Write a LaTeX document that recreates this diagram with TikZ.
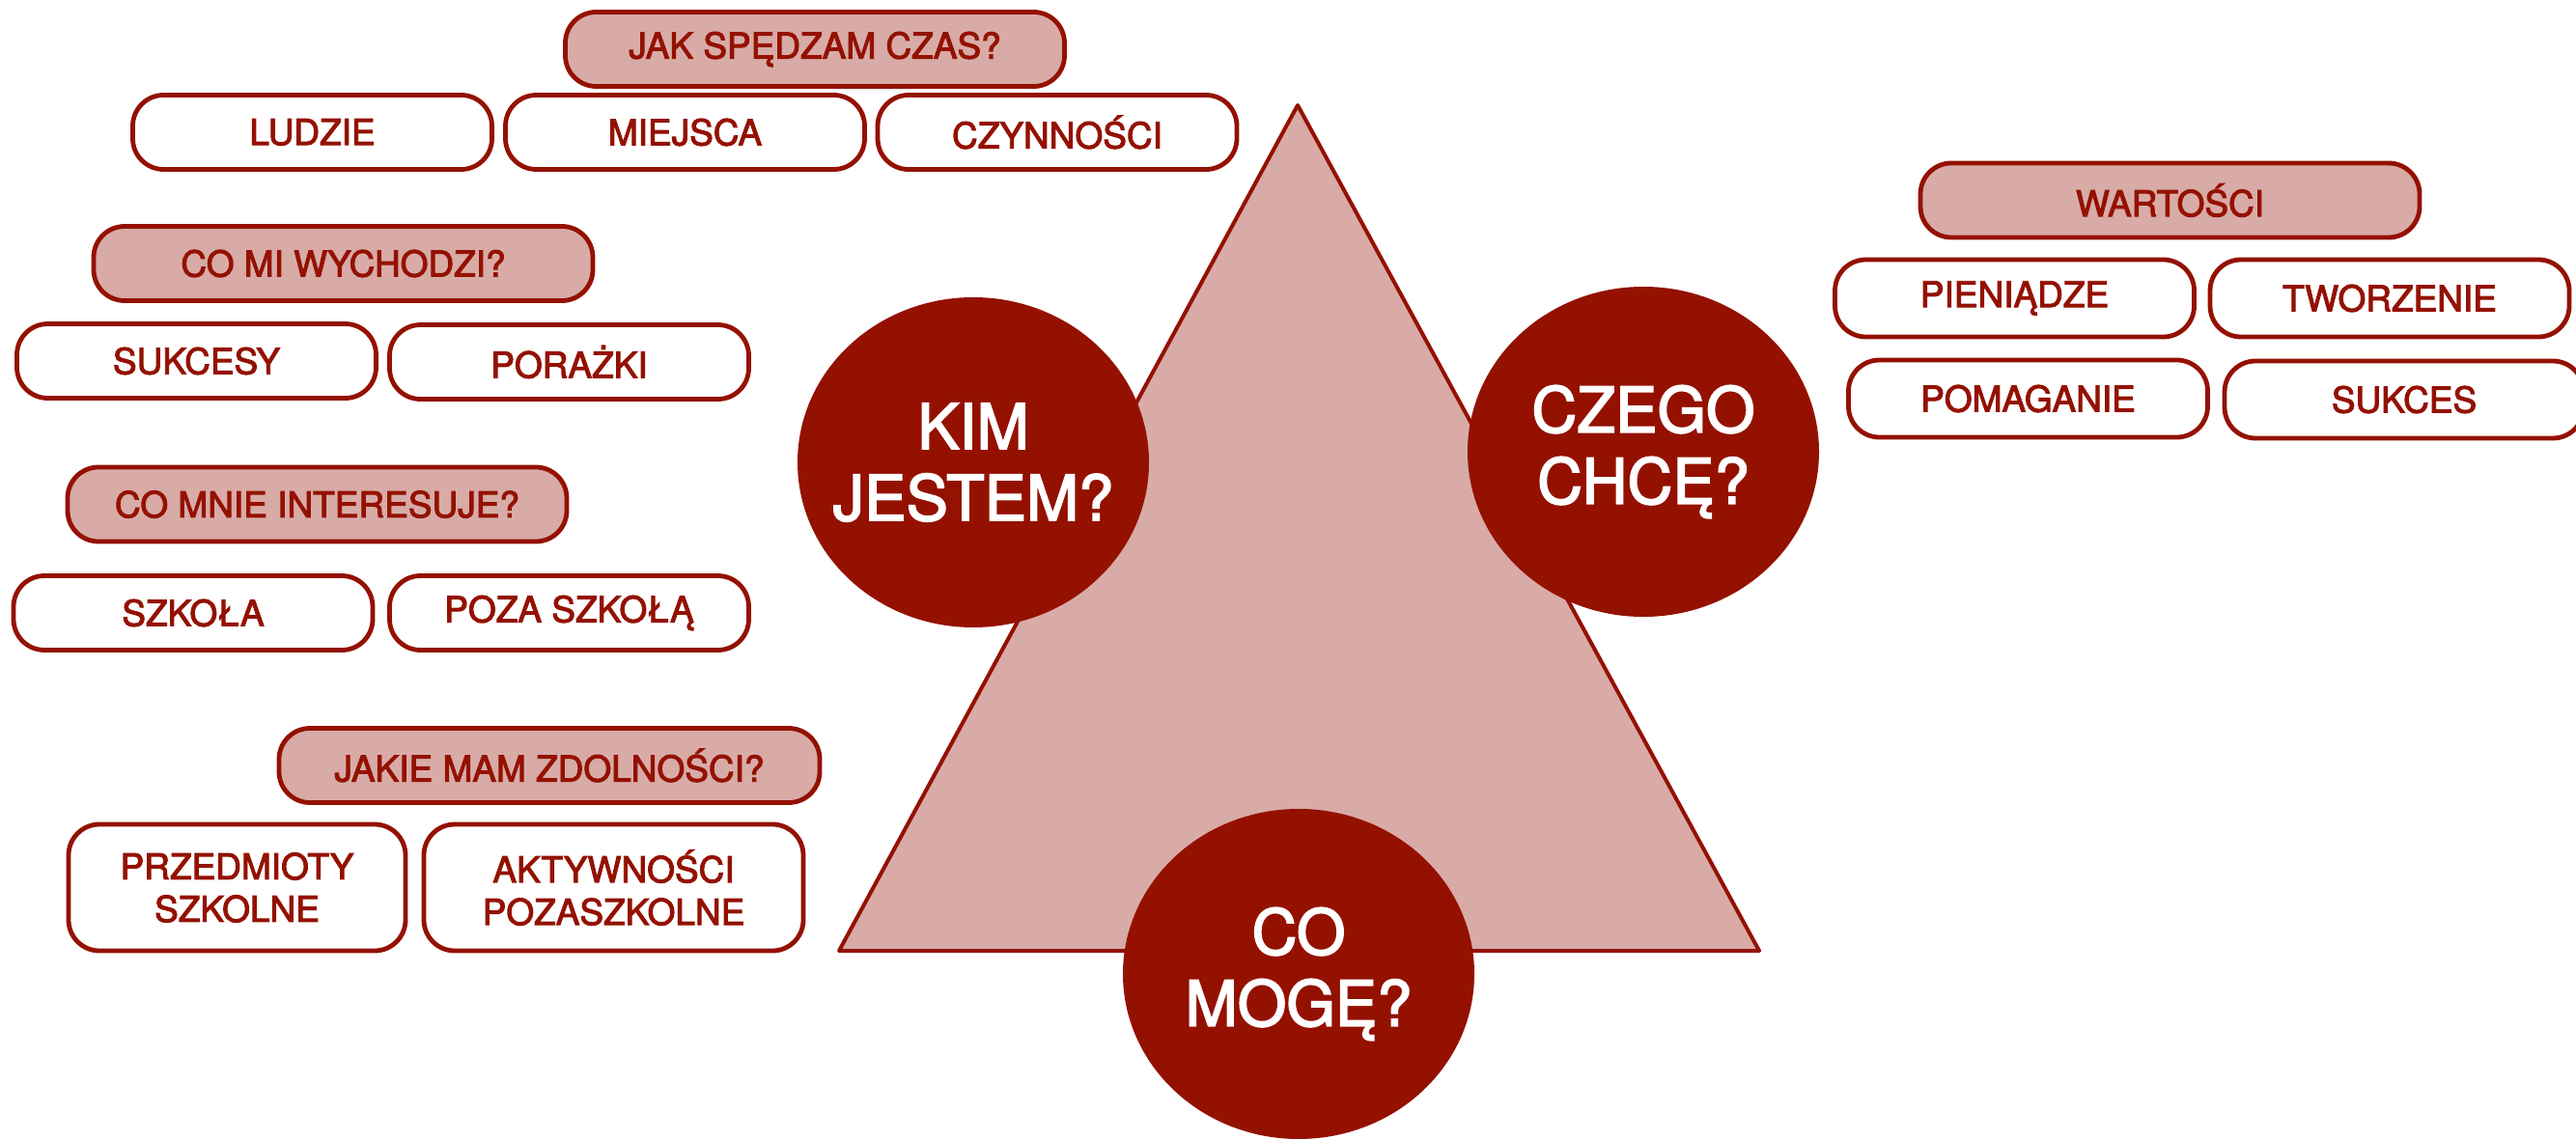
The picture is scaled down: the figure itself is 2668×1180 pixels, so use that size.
\documentclass[tikz,border=0pt]{standalone}
\usepackage{fontspec}
\setmainfont{TeX Gyre Heros}
\newfontfamily\medfont[RawFeature={embolden=2.6}]{TeX Gyre Heros}
\usetikzlibrary{shapes.geometric}
\definecolor{dred}{RGB}{148,17,0}
\definecolor{lred}{RGB}{216,171,167}
\tikzset{
  pill/.style={draw=dred, line width=4.8pt, rounded corners=32pt, fill=white,
    text=dred, font=\medfont\fontsize{37}{44}\selectfont, align=center,
    minimum width=372pt, minimum height=77pt, inner sep=0pt},
  head/.style={pill, fill=lred, minimum width=517pt},
  bigc/.style={ellipse, fill=dred, minimum width=364pt, minimum height=342pt, inner sep=0pt},
  ctext/.style={text=white, align=center, font=\medfont\fontsize{65}{74}\selectfont, inner sep=0pt},
  tri/.style={draw=dred, line width=4pt, fill=lred, line join=round}
}
\begin{document}
\begin{tikzpicture}[x=1pt,y=-1pt]
\useasboundingbox (0,0) rectangle (2668,1180);
% triangle
\coordinate (tA) at (1344,109);
\coordinate (tB) at (869,985);
\coordinate (tC) at (1822,985);
\draw[tri] (tA) -- (tB) -- (tC) -- cycle;
% circles
\node[bigc] (kim) at (1008,479) {};
\node[ctext] (kimt) at (kim) {KIM\\JESTEM?};
\node[bigc] (czego) at (1702,468) {};
\node[ctext] (czegot) at (czego) {CZEGO\\CHCĘ?};
\node[bigc] (co) at (1345,1009) {};
\node[ctext] (cot) at (co) {CO\\MOGĘ?};
% left boxes
\node[head] (jak) at (844,51) {JAK SPĘDZAM CZAS?};
\node[pill] (ludzie) at (323.5,137) {LUDZIE};
\node[pill] (miejsca) at (709.5,137) {MIEJSCA};
\node[pill] (czyn) at (1095,137) {CZYNNOŚCI};
\node[head] (comi) at (355.5,273) {CO MI WYCHODZI?};
\node[pill] (sukcesy) at (203.5,374) {SUKCESY};
\node[pill] (porazki) at (589.5,375) {PORAŻKI};
\node[head] (comnie) at (328.5,522.5) {CO MNIE INTERESUJE?};
\node[pill] (szkola) at (200,635) {SZKOŁA};
\node[pill] (poza) at (589.5,635) {POZA SZKOŁĄ};
\node[head, minimum width=560pt] (jakie) at (569,793) {JAKIE MAM ZDOLNOŚCI?};
\node[pill, minimum width=349pt, minimum height=131pt] (przed) at (245.5,919.5) {PRZEDMIOTY\\SZKOLNE};
\node[pill, minimum width=393pt, minimum height=131pt] (aktyw) at (635.5,919.5) {AKTYWNOŚCI\\POZASZKOLNE};
% right boxes
\node[head] (wart) at (2247.5,207.5) {WARTOŚCI};
\node[pill, minimum height=80pt] (pien) at (2086.5,309) {PIENIĄDZE};
\node[pill, minimum height=80pt] (tworz) at (2475,309) {TWORZENIE};
\node[pill, minimum height=80pt] (pomag) at (2100.5,413) {POMAGANIE};
\node[pill, minimum height=80pt] (sukces) at (2490,414) {SUKCES};
\end{tikzpicture}
\end{document}
